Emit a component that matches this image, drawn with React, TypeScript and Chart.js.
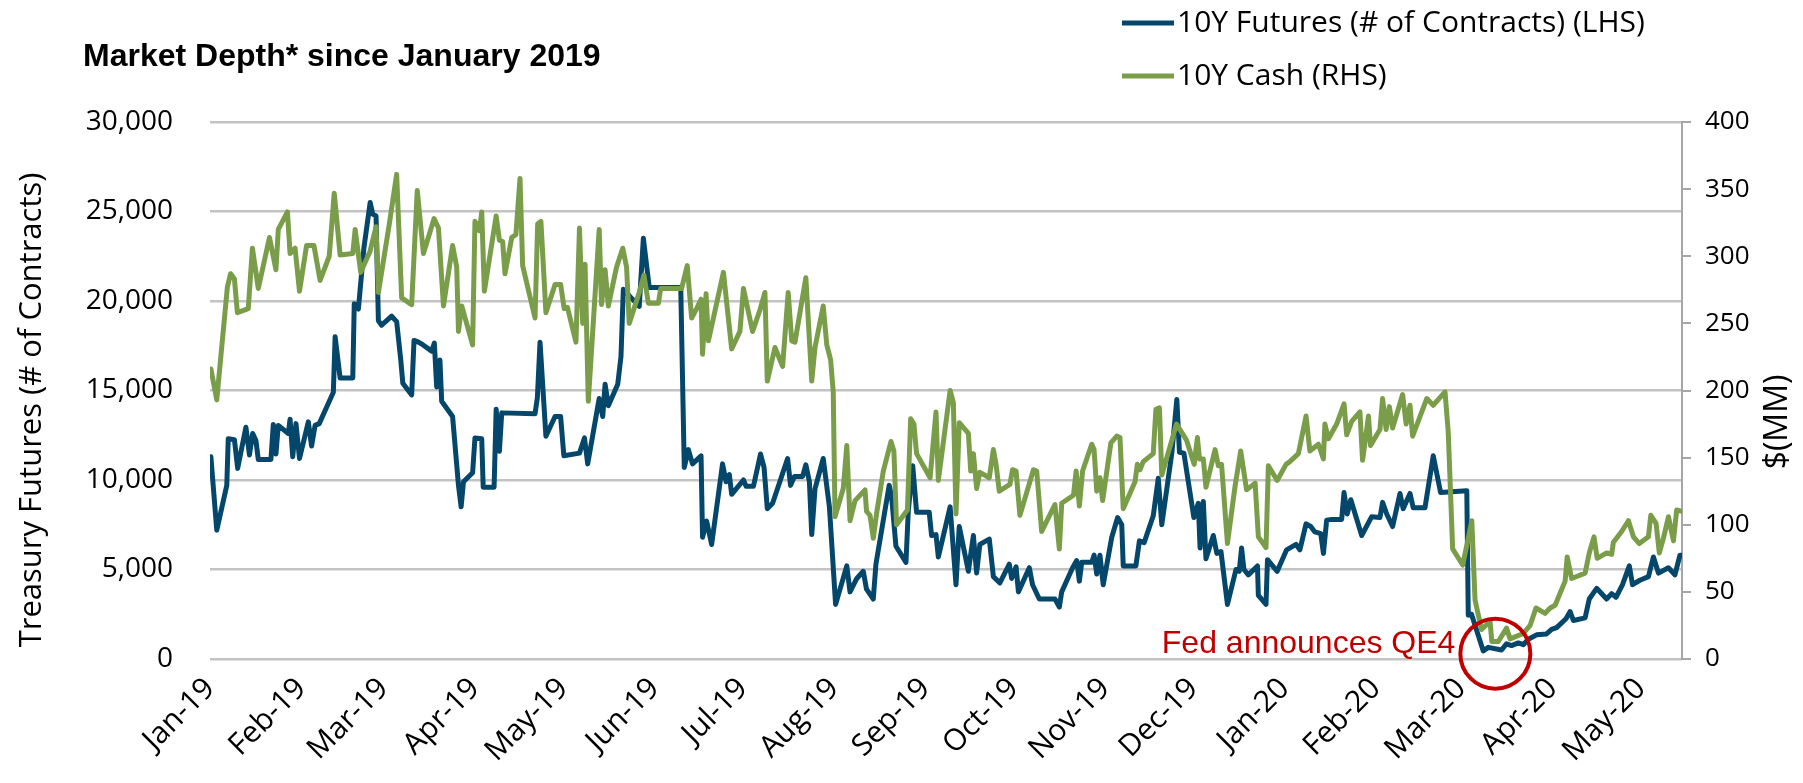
import React, { useEffect, useRef } from "react";
import { Chart, registerables } from "chart.js";

Chart.register(...registerables);

// ---- Data (x = days since 2019-01-01) ----
const monthDays = [0, 31, 59, 90, 120, 151, 181, 212, 243, 273, 304, 334, 365, 396, 425, 456, 486];
const monthLabels = ["Jan-19", "Feb-19", "Mar-19", "Apr-19", "May-19", "Jun-19", "Jul-19", "Aug-19", "Sep-19", "Oct-19", "Nov-19", "Dec-19", "Jan-20", "Feb-20", "Mar-20", "Apr-20", "May-20"];

const futDays = [
  0.3, 2.3, 5.7, 6.2, 8.3, 9.4, 12.2, 13.4, 14.5, 15.6, 16.4, 20.7, 21.5, 22.4, 23.2, 26.6, 27.2, 28.1, 29.2, 30.4,
  33.4, 34.5, 35.7, 37.1, 41.9, 42.5, 44.2, 48.5, 49.0, 50.4, 52.3, 54.4, 55.3, 56.4, 57.2, 58.3, 61.7, 63.4, 64.8, 65.5,
  68.5, 69.3, 70.8, 71.9, 75.3, 76.2, 77.0, 78.1, 78.7, 82.4, 84.4, 85.3, 86.1, 89.2, 90.0, 92.3, 92.8, 96.5, 97.2, 98.3,
  99.1, 110.4, 111.2, 112.1, 114.1, 117.2, 119.1, 120.2, 125.5, 127.2, 128.3, 132.2, 133.4, 134.2, 135.3, 138.5, 139.6, 140.4, 145.8, 147.2,
  149.2, 159.9, 161.1, 162.5, 163.9, 166.8, 167.3, 168.7, 170.4, 174.1, 175.3, 176.4, 177.2, 181.2, 182.1, 184.6, 187.0, 188.2, 189.3, 191.1,
  196.2, 197.2, 198.5, 201.3, 202.4, 203.6, 204.4, 205.5, 208.3, 210.4, 212.5, 216.3, 217.4, 219.7, 221.9, 223.0, 225.3, 226.2, 230.7, 231.5,
  233.0, 236.4, 237.2, 238.7, 240.0, 244.3, 245.1, 246.6, 247.4, 251.4, 253.4, 254.5, 257.6, 259.3, 260.4, 261.5, 264.7, 266.1, 268.3, 271.5,
  272.3, 273.8, 274.6, 278.3, 279.4, 281.7, 287.0, 288.5, 289.3, 293.0, 294.4, 295.3, 296.1, 299.5, 300.3, 301.2, 302.3, 303.4, 306.3, 308.3,
  309.7, 310.2, 314.5, 315.7, 317.3, 320.4, 322.1, 323.3, 326.7, 328.4, 329.3, 330.8, 334.2, 335.7, 336.3, 337.4, 338.3, 340.8, 342.0, 343.4,
  345.6, 348.5, 349.6, 350.4, 351.2, 352.7, 355.8, 356.1, 358.7, 359.2, 362.5, 365.7, 368.9, 370.2, 372.3, 373.9, 375.3, 377.3, 378.2, 379.3,
  381.0, 384.4, 385.2, 386.3, 387.5, 391.2, 394.6, 397.4, 398.3, 399.7, 401.7, 404.2, 405.3, 407.6, 408.7, 412.7, 415.5, 418.0, 426.9, 427.4,
  428.5, 432.5, 434.2, 438.7, 440.4, 442.1, 444.4, 446.1, 447.8, 450.6, 454.0, 455.7, 457.4, 460.6, 462.0, 463.1, 467.1, 468.5, 471.0, 474.4,
  476.1, 477.6, 479.8, 482.1, 483.2, 485.7, 488.6, 490.3, 492.0, 495.4, 497.6, 499.3, 500.0,
];
const futValues = [
  11300, 7200, 9700, 12300, 12250, 10650, 12950, 11400, 12600, 12200, 11150, 11150, 13100, 11450, 13050, 12600, 13400, 11300, 13150, 11200,
  13250, 11900, 13050, 13150, 14900, 18000, 15700, 15700, 19850, 19550, 23000, 25500, 24850, 24750, 18900, 18650, 19150, 18850, 16700, 15400,
  14750, 17800, 17700, 17600, 17200, 17650, 15200, 16700, 14400, 13550, 9700, 8500, 9900, 10400, 12350, 12300, 9600, 9600, 13950, 11600,
  13750, 13700, 14600, 17700, 12450, 13550, 13550, 11350, 11500, 12350, 10900, 14550, 13550, 15350, 14150, 15350, 16900, 20650, 19700, 23500,
  20750, 20750, 10700, 11700, 10900, 11350, 6800, 7700, 6400, 10900, 9900, 10300, 9200, 10000, 9650, 9650, 11450, 10700, 8400, 8700,
  11200, 9700, 10200, 10200, 10850, 9900, 6950, 9500, 11200, 8500, 3050, 5200, 3750, 4500, 4900, 3900, 3350, 5300, 9700, 9100,
  6300, 5400, 8300, 10800, 8200, 8200, 6900, 6950, 5700, 8500, 4150, 7400, 4900, 6900, 4800, 6400, 6700, 4600, 4250, 5300,
  4500, 5150, 3750, 5100, 4150, 3350, 3350, 2900, 3750, 5100, 5500, 4350, 5400, 5400, 5800, 4750, 5800, 4150, 6800, 7900,
  7500, 5200, 5200, 6600, 6500, 8000, 10100, 7500, 11500, 14500, 11550, 11500, 7900, 8700, 6200, 8800, 5600, 6900, 5900, 6000,
  3050, 5000, 4900, 6200, 5000, 4700, 5200, 3550, 3050, 5550, 4900, 6100, 6400, 6100, 7550, 7400, 7100, 7000, 5900, 7750,
  7800, 7800, 9300, 8100, 8900, 6900, 7950, 7900, 8750, 8100, 7400, 9250, 8400, 9250, 8450, 8450, 11350, 9300, 9400, 2450,
  2500, 450, 650, 500, 850, 750, 900, 800, 1100, 1350, 1400, 1650, 1750, 2250, 2650, 2150, 2300, 3350, 3950, 3350,
  3650, 3450, 4150, 5200, 4150, 4400, 4600, 5700, 4800, 5100, 4700, 5800, 5800,
];

const cashDays = [
  0.3, 2.3, 5.9, 7.0, 8.3, 9.3, 13.0, 14.4, 16.4, 20.2, 22.4, 23.2, 26.3, 27.2, 28.9, 30.4, 32.8, 35.3, 37.4, 40.5,
  42.2, 44.2, 48.5, 49.3, 51.2, 54.4, 56.4, 57.2, 60.9, 63.4, 65.1, 68.5, 70.4, 72.5, 76.1, 77.6, 79.3, 82.4, 83.8, 84.4,
  85.5, 89.2, 90.0, 91.5, 92.3, 93.2, 97.2, 98.3, 99.4, 100.2, 102.5, 103.9, 105.3, 106.2, 110.4, 111.3, 112.4, 114.1, 117.2, 119.1,
  120.3, 121.4, 124.3, 125.5, 126.6, 127.4, 128.5, 132.2, 133.0, 134.2, 135.3, 138.1, 140.2, 141.5, 142.4, 145.8, 147.4, 148.9, 152.3, 153.1,
  160.2, 162.1, 163.6, 165.3, 166.8, 167.3, 168.5, 169.3, 174.4, 177.2, 180.0, 181.2, 184.3, 186.8, 188.5, 189.3, 191.9, 194.5, 196.4, 197.6,
  198.7, 202.4, 204.4, 205.5, 208.3, 209.5, 210.8, 211.7, 212.3, 215.1, 216.3, 217.4, 219.1, 222.5, 223.0, 224.2, 225.3, 226.4, 228.7, 231.3,
  232.3, 233.2, 236.9, 238.0, 239.1, 240.0, 244.6, 246.6, 247.4, 251.4, 252.5, 253.4, 254.5, 257.6, 258.4, 259.3, 260.4, 261.5, 264.7, 266.1,
  267.0, 268.1, 271.7, 272.6, 273.8, 275.1, 279.7, 280.8, 282.5, 287.0, 288.5, 289.3, 293.3, 294.2, 295.3, 296.4, 299.5, 300.3, 301.2, 302.3,
  303.2, 306.0, 308.0, 309.1, 310.2, 314.2, 315.0, 315.9, 317.0, 320.4, 321.3, 322.5, 323.3, 328.3, 331.7, 334.3, 335.4, 336.1, 337.4, 338.3,
  341.4, 342.5, 343.6, 345.6, 348.2, 350.1, 352.1, 355.0, 356.1, 358.7, 359.5, 362.5, 365.5, 366.8, 369.7, 372.3, 373.6, 376.5, 378.2, 378.7,
  379.9, 382.7, 385.2, 386.1, 387.8, 390.6, 391.5, 393.5, 394.2, 397.4, 398.3, 399.5, 400.6, 401.7, 405.1, 406.3, 407.6, 408.5, 413.3, 415.5,
  419.5, 420.6, 422.1, 425.5, 427.4, 428.6, 429.7, 431.9, 434.8, 435.4, 437.6, 440.4, 441.6, 446.1, 448.4, 450.4, 453.5, 455.2, 456.9, 460.3,
  461.0, 462.5, 467.1, 468.5, 470.1, 471.2, 474.4, 476.1, 476.7, 479.5, 481.8, 483.5, 485.5, 488.6, 489.4, 491.2, 492.3, 493.7, 495.4, 497.1,
  498.2, 500.0,
];
const cashValues = [
  216, 193, 277, 287, 283, 258, 261, 306, 276, 314, 290, 320, 333, 302, 306, 274, 308, 308, 282, 300,
  347, 301, 302, 320, 288, 304, 322, 273, 324, 361, 269, 264, 349, 302, 328, 321, 263, 308, 292, 244,
  263, 234, 326, 319, 333, 274, 330, 312, 311, 287, 314, 316, 358, 293, 254, 324, 326, 258, 279, 279,
  261, 262, 236, 321, 250, 294, 192, 320, 264, 290, 263, 292, 306, 292, 250, 273, 286, 265, 265, 276,
  276, 293, 254, 261, 268, 227, 272, 237, 288, 231, 244, 276, 244, 260, 273, 207, 232, 218, 273, 237,
  236, 284, 207, 232, 263, 234, 223, 199, 106, 127, 159, 103, 118, 126, 110, 107, 90, 108, 140, 162,
  155, 100, 111, 179, 175, 153, 135, 184, 133, 200, 191, 108, 176, 168, 140, 153, 127, 139, 135, 156,
  145, 125, 130, 141, 140, 107, 141, 140, 95, 115, 82, 116, 122, 140, 114, 140, 160, 156, 125, 135,
  118, 161, 166, 165, 112, 132, 145, 141, 147, 153, 186, 187, 137, 175, 163, 145, 165, 149, 149, 128,
  156, 144, 145, 86, 129, 155, 126, 131, 91, 83, 144, 133, 145, 147, 153, 181, 155, 160, 149, 175,
  164, 175, 190, 167, 177, 184, 148, 181, 159, 171, 194, 171, 188, 172, 197, 175, 189, 166, 194, 189,
  199, 169, 82, 70, 90, 103, 44, 22, 28, 13, 13, 23, 15, 19, 25, 38, 34, 38, 40, 58,
  76, 60, 64, 79, 91, 75, 79, 78, 87, 95, 103, 91, 86, 91, 107, 101, 79, 90, 106, 88,
  111, 110,
];

const LEGEND_LABELS = ["10Y Futures (# of Contracts) (LHS)", "10Y Cash (RHS)"];
const TITLE = "Market Depth* since January 2019";
const LEFT_AXIS_TITLE = "Treasury Futures (# of Contracts)";
const RIGHT_AXIS_TITLE = "$(MM)";
const ANNOTATION_TEXT = "Fed announces QE4";
const QE4_DAY = 436.6;
const QE4_LEVEL = 300;

// ---- Styles ----
const BLUE = "#04476A";
const GREEN = "#7A9D4A";
const GRID = "#C3C3C3";
const AXIS_GREY = "#A6A6A6";
const RED = "#C00000";
const SANS = '"Open Sans", "Noto Sans", sans-serif';
const ARIAL = '"Liberation Sans", Arial, sans-serif';

const overlayPlugin = {
  id: "overlay",
  afterDraw(chart: any) {
    const { ctx, scales } = chart;
    ctx.save();
    ctx.fillStyle = "#000";
    // title
    ctx.font = `bold 32px ${ARIAL}`;
    ctx.textAlign = "left";
    ctx.textBaseline = "alphabetic";
    ctx.fillText(TITLE, 83, 66);

    // legend
    const rows = [
      { y: 23, color: BLUE, text: LEGEND_LABELS[0] },
      { y: 76, color: GREEN, text: LEGEND_LABELS[1] },
    ];
    ctx.font = `30px ${SANS}`;
    ctx.textBaseline = "middle";
    rows.forEach((r) => {
      ctx.strokeStyle = r.color;
      ctx.lineWidth = 5;
      ctx.lineCap = "butt";
      ctx.beginPath();
      ctx.moveTo(1122, r.y);
      ctx.lineTo(1174, r.y);
      ctx.stroke();
      ctx.fillStyle = "#000";
      ctx.fillText(r.text, 1177, r.y);
    });

    // axis titles
    ctx.font = `31px ${SANS}`;
    ctx.textAlign = "center";
    ctx.save();
    ctx.translate(32, 410);
    ctx.rotate(-Math.PI / 2);
    ctx.fillText(LEFT_AXIS_TITLE, 0, 0);
    ctx.restore();
    ctx.font = `32px ${SANS}`;
    ctx.save();
    ctx.translate(1778, 422);
    ctx.rotate(-Math.PI / 2);
    ctx.fillText(RIGHT_AXIS_TITLE, 0, 0);
    ctx.restore();

    // annotation
    const cx = scales.x.getPixelForValue(QE4_DAY);
    const cy = scales.y.getPixelForValue(QE4_LEVEL);
    ctx.strokeStyle = RED;
    ctx.lineWidth = 4;
    ctx.beginPath();
    ctx.arc(cx, cy, 35, 0, Math.PI * 2);
    ctx.stroke();
    ctx.fillStyle = RED;
    ctx.font = `32px ${ARIAL}`;
    ctx.textAlign = "right";
    ctx.textBaseline = "alphabetic";
    ctx.fillText(ANNOTATION_TEXT, cx - 40, cy - 1);
    ctx.restore();
  },
};

export default function App() {
  const ref = useRef<HTMLCanvasElement | null>(null);
  useEffect(() => {
    document.body.style.margin = "0";
    const canvas = ref.current;
    if (!canvas) return;
    const chart = new Chart(canvas, {
      type: "line",
      data: {
        datasets: [
          {
            label: LEGEND_LABELS[0],
            data: futDays.map((d, i) => ({ x: d, y: futValues[i] })),
            borderColor: BLUE,
            backgroundColor: BLUE,
            borderWidth: 5,
            pointRadius: 0,
            tension: 0,
            yAxisID: "y",
            borderJoinStyle: "round",
            borderCapStyle: "round",
            order: 1,
          },
          {
            label: LEGEND_LABELS[1],
            data: cashDays.map((d, i) => ({ x: d, y: cashValues[i] })),
            borderColor: GREEN,
            backgroundColor: GREEN,
            borderWidth: 5,
            pointRadius: 0,
            tension: 0,
            yAxisID: "y2",
            borderJoinStyle: "round",
            borderCapStyle: "round",
            order: 0,
          },
        ],
      },
      options: {
        responsive: false,
        animation: false,
        devicePixelRatio: 1,
        layout: { padding: { top: 122, left: 0, right: 0, bottom: 0 } },
        plugins: {
          legend: { display: false },
          title: { display: false },
          tooltip: { enabled: false },
        },
        scales: {
          x: {
            type: "linear",
            min: 0,
            max: 500,
            afterBuildTicks: (s: any) => {
              s.ticks = monthDays.map((v) => ({ value: v }));
            },
            afterFit: (s: any) => {
              s.height = 124;
            },
            ticks: {
              autoSkip: false,
              minRotation: 45,
              maxRotation: 45,
              padding: 12,
              color: "#000",
              font: { family: SANS, size: 30 },
              callback: (_v: any, i: number) => monthLabels[i],
            },
            grid: { display: false, drawTicks: false },
            border: { display: false },
          },
          y: {
            position: "left",
            min: 0,
            max: 30000,
            afterFit: (s: any) => {
              s.width = 210;
            },
            ticks: {
              stepSize: 5000,
              padding: 37,
              color: "#000",
              font: { family: SANS, size: 28 },
              callback: (v: any) => Number(v).toLocaleString("en-US"),
            },
            grid: { color: GRID, lineWidth: 2.5, drawTicks: false },
            border: { display: false },
          },
          y2: {
            position: "right",
            min: 0,
            max: 400,
            afterFit: (s: any) => {
              s.width = 121;
            },
            ticks: {
              stepSize: 50,
              padding: 14,
              color: "#000",
              font: { family: SANS, size: 26 },
            },
            grid: { drawOnChartArea: false, drawTicks: true, tickLength: 9, color: AXIS_GREY, lineWidth: 2 },
            border: { display: true, color: AXIS_GREY, width: 2 },
          },
        },
      },
      plugins: [overlayPlugin],
    } as any);
    return () => chart.destroy();
  }, []);
  return (
    <div style={{ width: 1803, height: 783, position: "relative" }}>
      <canvas ref={ref} width={1803} height={783} style={{ display: "block", width: 1803, height: 783 }} />
    </div>
  );
}
